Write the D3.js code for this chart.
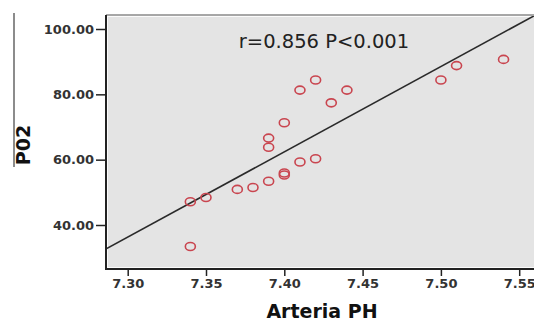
<!DOCTYPE html>
<html><head><meta charset="utf-8">
<script src="https://cdn.jsdelivr.net/npm/d3@7"></script>
<style>body{margin:0;background:#fff}svg{display:block}</style>
</head><body>
<script>
const ph  = [7.34, 7.34, 7.35, 7.37, 7.38, 7.39, 7.39, 7.39, 7.40, 7.40, 7.40, 7.41, 7.41, 7.42, 7.42, 7.43, 7.44, 7.50, 7.51, 7.54];
const po2 = [33.4, 47.1, 48.4, 50.9, 51.5, 53.4, 63.8, 66.6, 55.3, 55.9, 71.3, 59.3, 81.3, 60.3, 84.4, 77.4, 81.3, 84.4, 88.8, 90.7];
const xTicks = [7.30, 7.35, 7.40, 7.45, 7.50, 7.55];
const yTicks = [40, 60, 80, 100];
const fitPh = [7.25, 7.60];
const fitSlope = 261, fitRefPh = 7.40, fitRefPo2 = 62.4;
const annotation = "r=0.856 P<0.001";
const xTitle = "Arteria PH", yTitle = "P02";

const W = 534, H = 321;
const L = 106, T = 15, B = 269, R = 545;
const x = d3.scaleLinear().domain([7.30, 7.55]).range([127.7, 519.2]);
const y = d3.scaleLinear().domain([40, 100]).range([225, 29]);

const svg = d3.select("body").append("svg").attr("width", W).attr("height", H);
svg.append("defs").append("clipPath").attr("id","clip")
  .append("rect").attr("x", L+1).attr("y", T+1).attr("width", R-L).attr("height", B-T-2);

// plot background
svg.append("rect").attr("x", L).attr("y", T).attr("width", R-L).attr("height", B-T)
  .attr("fill", "#fbfbfb");
svg.append("rect").attr("x", L+2).attr("y", T+2).attr("width", R-L).attr("height", B-T-4)
  .attr("fill", "#e4e4e4");
svg.append("line").attr("x1", L).attr("x2", R).attr("y1", T).attr("y2", T)
  .attr("stroke", "#8a8a8a").attr("stroke-width", 1.5);

// regression line
const fitData = fitPh.map(p => ({p, v: fitRefPo2 + fitSlope*(p - fitRefPh)}));
svg.append("path").datum(fitData).attr("clip-path","url(#clip)")
  .attr("d", d3.line().x(d => x(d.p)).y(d => y(d.v)))
  .attr("fill","none").attr("stroke","#2a2a2a").attr("stroke-width",1.6);

// points
svg.append("g").selectAll("ellipse").data(ph.map((p,i)=>({p, v: po2[i]}))).join("ellipse")
  .attr("cx", d => x(d.p)).attr("cy", d => y(d.v)).attr("rx", 5).attr("ry", 4)
  .attr("fill","none").attr("stroke","#c9454f").attr("stroke-width",1.6);

// axes
const xAxis = d3.axisBottom(x).tickValues(xTicks).tickFormat(d3.format(".2f")).tickSize(7).tickPadding(3);
const gx = svg.append("g").attr("transform", `translate(0,${B})`).call(xAxis);
gx.select(".domain").remove();
gx.append("line").attr("x1", L-1).attr("x2", R).attr("stroke","#222").attr("stroke-width",2);
const yAxis = d3.axisLeft(y).tickValues(yTicks).tickFormat(d3.format(".2f")).tickSize(10).tickPadding(2);
const gy = svg.append("g").attr("transform", `translate(${L},0)`).call(yAxis);
gy.select(".domain").remove();
gy.append("line").attr("y1", T).attr("y2", B+1).attr("stroke","#222").attr("stroke-width",2);
svg.selectAll(".tick line").attr("stroke","#222").attr("stroke-width",1.5);
svg.selectAll(".tick text").attr("font-family","DejaVu Sans").attr("font-weight","bold")
  .attr("font-size",13).attr("fill","#333");

// titles
svg.append("text").attr("x", 322).attr("y", 318).attr("text-anchor","middle")
  .attr("font-family","DejaVu Sans").attr("font-weight","bold").attr("font-size",19)
  .attr("fill","#111").text(xTitle);
svg.append("text").attr("transform","translate(30,145) rotate(-90)").attr("text-anchor","middle")
  .attr("font-family","DejaVu Sans").attr("font-weight","bold").attr("font-size",19)
  .attr("fill","#111").text(yTitle);
svg.append("line").attr("x1",14).attr("x2",14).attr("y1",13).attr("y2",167)
  .attr("stroke","#666").attr("stroke-width",1.5);

// annotation
svg.append("text").attr("x", 324).attr("y", 48).attr("text-anchor","middle")
  .attr("font-family","DejaVu Sans").attr("font-size",19.5).attr("fill","#222").text(annotation);
</script>
</body></html>
